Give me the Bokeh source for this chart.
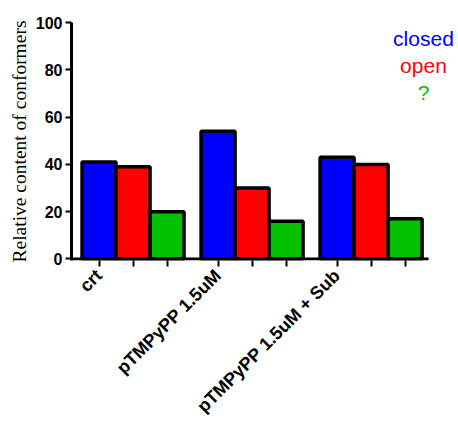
import math
from bokeh.plotting import figure
from bokeh.models import ColumnDataSource, FixedTicker, Range1d, Label
from bokeh.embed import file_html
from bokeh.resources import INLINE

groups = ["crt", "pTMPyPP 1.5uM", "pTMPyPP 1.5uM + Sub"]
series = ["closed", "open", "?"]
colors = ["#0000ff", "#ff0000", "#00c000"]
closed_vals = [41, 54, 43]
open_vals = [39, 30, 40]
unknown_vals = [20, 16, 17]
values = [closed_vals, open_vals, unknown_vals]
y_ticks = [0, 20, 40, 60, 80, 100]

GROUP_STEP = 3.5
X_START = -0.31
AXIS_END = 10.19
xs, tops, fills = [], [], []
for g in range(len(groups)):
    for s in range(len(series)):
        xs.append(g * GROUP_STEP + s + 0.5)
        tops.append(values[s][g])
        fills.append(colors[s])

src = ColumnDataSource(dict(x=xs, top=tops, fill=fills))

p = figure(width=458, height=426, output_backend="svg", toolbar_location=None,
           x_range=Range1d(X_START, 11.07), y_range=Range1d(-0.64, 100),
           min_border_left=71, min_border_right=0, min_border_top=22, min_border_bottom=166)
p.outline_line_color = None
p.grid.visible = False
p.background_fill_color = "white"
p.border_fill_color = "white"

p.vbar(x="x", top="top", bottom=0, width=1.0, fill_color="fill", line_color="black",
       line_width=3.5, source=src)
# x axis baseline drawn only up to the end of the bars region
p.segment(x0=[X_START], y0=[0], x1=[AXIS_END], y1=[0], line_color="black", line_width=3)

# axes
p.yaxis.ticker = FixedTicker(ticks=y_ticks)
p.yaxis.axis_label = "Relative content of conformers"
p.yaxis.axis_label_text_font = "Liberation Serif"
p.yaxis.axis_label_text_font_style = "normal"
p.yaxis.axis_label_text_font_size = "19.5px"
p.yaxis.axis_label_text_color = "black"
p.yaxis.axis_label_standoff = 3
p.yaxis.major_label_text_font = "Liberation Sans"
p.yaxis.major_label_text_font_style = "bold"
p.yaxis.major_label_text_font_size = "16px"
p.yaxis.major_label_text_color = "black"
p.yaxis.major_label_standoff = 3

label_pos = [g * GROUP_STEP + 0.5 for g in range(len(groups))]
p.xaxis.ticker = FixedTicker(ticks=xs)
overrides = {x: "" for x in xs}
for pos, name in zip(label_pos, groups):
    overrides[pos] = name
p.xaxis.major_label_overrides = overrides
p.xaxis.major_label_orientation = math.pi / 4
p.xaxis.major_label_text_font = "Liberation Sans"
p.xaxis.major_label_text_font_style = "bold"
p.xaxis.major_label_text_font_size = "18px"
p.xaxis.major_label_text_color = "black"
p.xaxis.major_label_standoff = 6
p.xaxis.axis_line_color = None

p.yaxis.axis_line_width = 3
p.yaxis.axis_line_color = "black"
for ax in (p.xaxis, p.yaxis):
    ax.major_tick_line_width = 2
    ax.major_tick_line_color = "black"
    ax.major_tick_out = 6
    ax.major_tick_in = 0
    ax.minor_tick_line_color = None

# legend-like texts
leg_x = 10.04
leg_y = [93.2, 81.8, 70.3]
for name, col, yy in zip(series, colors, leg_y):
    p.add_layout(Label(x=leg_x, y=yy, text=name, text_color=col, text_align="center",
                       text_baseline="alphabetic", text_font="Liberation Sans",
                       text_font_size="21px"))

open("out.html", "w").write(file_html(p, INLINE))
